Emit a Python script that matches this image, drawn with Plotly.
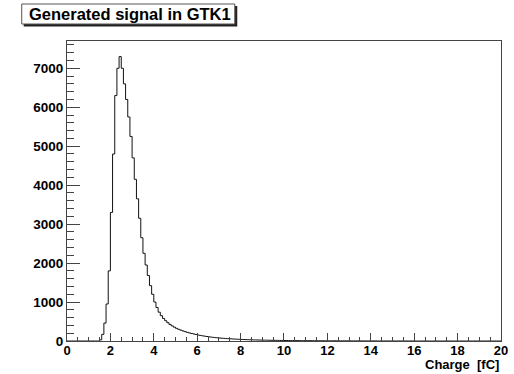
import numpy as np
import plotly.graph_objects as go

title_text = "Generated signal in GTK1"
x_title = "Charge  [fC]"
x_min, x_max, bin_width = 0.0, 20.0, 0.1
y_max = 7700

# bin contents, bins of width 0.1 starting at 0
counts = [
    0, 0, 0, 0, 0, 0, 0, 0, 0, 0,
    0, 0, 0, 0, 0, 30, 170, 460, 950, 1800,
    3300, 4800, 6300, 7000, 7300, 7000, 6600, 6200, 5750, 5250,
    4700, 4150, 3650, 3150, 2650, 2250, 1950, 1680, 1420, 1200,
    1000, 860, 740, 650, 580, 520, 470, 425, 388, 355,
    325, 300, 278, 258, 240, 222, 207, 193, 180, 168,
    154, 143, 133, 124, 115, 107, 100, 93, 87, 81,
    76, 71, 67, 63, 59, 56, 52, 49, 46, 43,
    41, 38, 36, 34, 32, 30, 28, 27, 25, 24,
    22, 21, 20, 19, 18, 17, 16, 15, 14, 14,
    13, 12, 12, 11, 11, 10, 10, 9, 9, 9,
    8, 8, 8, 7, 7, 7, 6, 6, 6, 6,
    5, 5, 5, 5, 4, 4, 4, 4, 4, 3,
    3, 3, 3, 3, 3, 2, 2, 2, 2, 2,
    2, 2, 2, 1, 1, 1, 1, 1, 1, 1,
    1, 1, 1, 1, 1, 0, 1, 0, 1, 0,
    0, 0, 0, 0, 0, 0, 0, 0, 0, 0,
    0, 0, 0, 0, 0, 0, 0, 0, 0, 0,
    0, 0, 0, 0, 0, 0, 0, 0, 0, 0,
    0, 0, 0, 0, 0, 0, 0, 0, 0, 0,
]

edges = x_min + bin_width * np.arange(len(counts) + 1)
xs = list(edges)
ys = list(counts) + [counts[-1]]

FONT = "Liberation Sans, Arial, Helvetica, sans-serif"

fig = go.Figure()
fig.add_trace(go.Scatter(x=xs, y=ys, mode="lines", line=dict(color="#111", width=1, shape="hv"),
                         hoverinfo="skip", showlegend=False))

W, H = 514, 374
L, R, T, B = 67, 6, 41, 33
pw, ph = W - L - R, H - T - B

def px(xp):
    return (xp - L) / pw

def py(yp):
    return (H - B - yp) / ph

fig.update_layout(
    width=W, height=H,
    margin=dict(l=L, r=R, t=T, b=B),
    paper_bgcolor="white", plot_bgcolor="white",
    font=dict(family=FONT, color="black"),
    xaxis=dict(range=[x_min, x_max + 0.0005], dtick=2, tick0=0, showgrid=False, zeroline=False,
               showline=True, linecolor="#444", linewidth=1, mirror=True,
               ticks="inside", ticklen=8, tickcolor="#444", ticklabeloverflow="allow",
               ticklabelstandoff=-3,
               minor=dict(dtick=0.5, ticks="inside", ticklen=4, tickcolor="#444", showgrid=False),
               tickfont=dict(family=FONT, size=13, weight="bold"), fixedrange=True),
    yaxis=dict(range=[0, y_max], dtick=1000, tick0=0, showgrid=False, zeroline=False,
               showline=True, linecolor="#444", linewidth=1, mirror=True,
               ticks="inside", ticklen=13, tickcolor="#444",
               minor=dict(dtick=200, ticks="inside", ticklen=7, tickcolor="#444", showgrid=False),
               tickfont=dict(family=FONT, size=13.5, weight="bold"), fixedrange=True),
    shapes=[
        dict(type="rect", xref="paper", yref="paper", x0=px(23), x1=px(240), y0=py(26.5), y1=py(6),
             fillcolor="#222", line=dict(width=0), layer="above"),
        dict(type="rect", xref="paper", yref="paper", x0=px(21), x1=px(237.5), y0=py(24), y1=py(4),
             fillcolor="white", line=dict(color="#555", width=1), layer="above"),
    ],
    annotations=[
        dict(text=title_text, xref="paper", yref="paper", x=px(131), y=py(14.5),
             xanchor="center", yanchor="middle", showarrow=False,
             font=dict(family=FONT, size=16.5, weight="bold", color="black")),
        dict(text=x_title, xref="paper", yref="paper", x=px(508), y=py(374),
             xanchor="right", yanchor="bottom", showarrow=False,
             font=dict(family=FONT, size=13, weight="bold", color="black")),
    ],
)

fig.write_html("out.html")
